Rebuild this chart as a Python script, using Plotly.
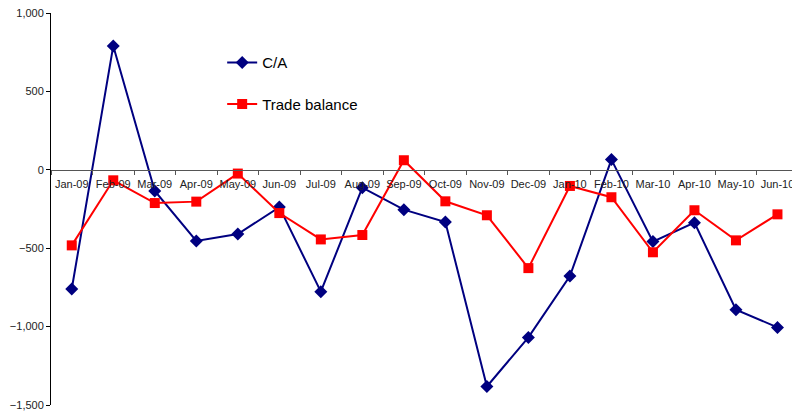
import plotly.graph_objects as go

months = ["Jan-09", "Feb-09", "Mar-09", "Apr-09", "May-09", "Jun-09",
          "Jul-09", "Aug-09", "Sep-09", "Oct-09", "Nov-09", "Dec-09",
          "Jan-10", "Feb-10", "Mar-10", "Apr-10", "May-10", "Jun-10"]

current_account = [-760, 790, -135, -454, -410, -238, -777, -114, -254,
                   -333, -1382, -1069, -678, 65, -458, -337, -892, -1005]

trade_balance = [-482, -67, -212, -203, -24, -276, -444, -416, 61,
                 -201, -290, -627, -103, -175, -526, -258, -450, -284]

FONT = "Arial, Liberation Sans, sans-serif"

fig = go.Figure()
fig.add_trace(go.Scatter(
    x=months, y=current_account, name="C/A", mode="lines+markers",
    legendgroup="ca",
    line=dict(color="#000080", width=2),
    marker=dict(symbol="diamond", size=10, color="#000080"),
))
fig.add_trace(go.Scatter(
    x=months, y=trade_balance, name="Trade balance", mode="lines+markers",
    legendgroup="tb",
    line=dict(color="#FF0000", width=2),
    marker=dict(symbol="square", size=10, color="#FF0000"),
))

fig.update_layout(
    width=792, height=412,
    margin=dict(l=51, r=0, t=13, b=7),
    paper_bgcolor="white", plot_bgcolor="white",
    font=dict(family=FONT, color="#222222"),
    showlegend=True,
    legend=dict(x=0.231, y=0.915, xanchor="left", yanchor="top",
                font=dict(size=15, color="#000000"),
                bgcolor="rgba(0,0,0,0)", tracegroupgap=19,
                itemwidth=30),
    xaxis=dict(
        type="category", range=[-0.5, 17.35],
        anchor="free", position=0.6, automargin=False,
        showline=True, linecolor="#555555", linewidth=1,
        ticks="outside", tickson="boundaries", ticklen=4,
        tickcolor="#555555", tickangle=0, ticklabelstandoff=4,
        showgrid=False, zeroline=False,
        tickfont=dict(size=11, color="#222222"),
    ),
    yaxis=dict(
        range=[-1500, 1000], dtick=500, tickformat=",d",
        automargin=False,
        showline=True, linecolor="#000000", linewidth=1,
        ticks="outside", ticklen=4, tickcolor="#000000",
        showgrid=False, zeroline=False,
        tickfont=dict(size=11, color="#222222"),
    ),
)

fig.write_html("out.html")
